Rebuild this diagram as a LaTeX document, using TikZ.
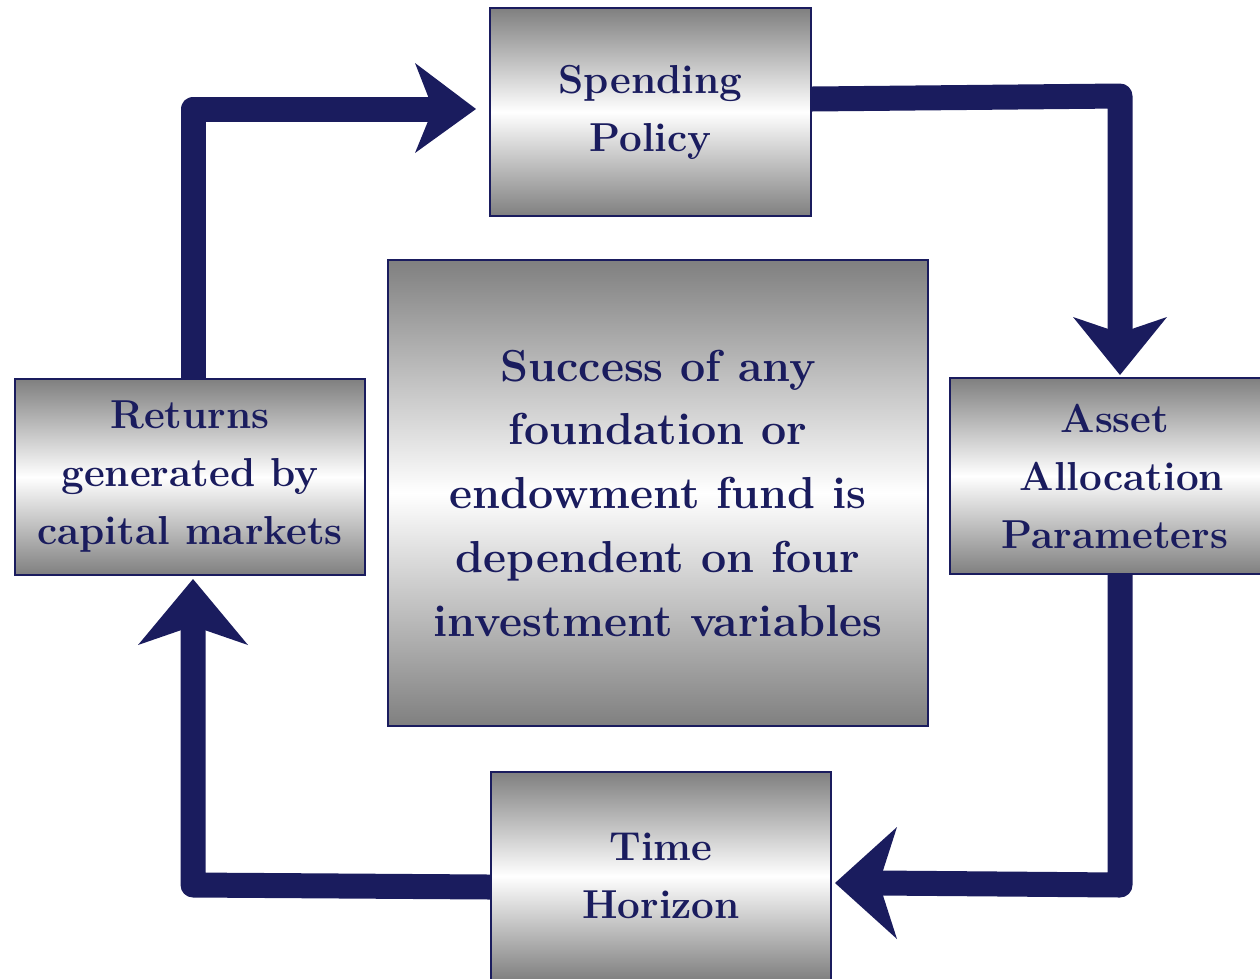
\documentclass[tikz,border=0pt]{standalone}
\usetikzlibrary{calc}
\definecolor{navy}{RGB}{26,28,94}
\tikzset{
  box/.style={draw=navy, line width=1.2pt, top color=gray, bottom color=gray, middle color=white,
    text=navy, align=center, inner sep=0pt, font=\bfseries\fontsize{23}{33}\selectfont},
  bigbox/.style={box, font=\bfseries\fontsize{25.5}{36.3}\selectfont},
  conn/.style={draw=navy, line width=0.5cm, line join=round},
  head/.style={fill=navy, draw=none}
}
\begin{document}
\begin{tikzpicture}[x=0.02cm, y=-0.02cm]
\useasboundingbox (0,0) rectangle (1260,978);
\clip (0,0) rectangle (1260,978);
% boxes
\node[box, minimum width=6.42cm, minimum height=4.16cm] (spend) at (650.5,112) {Spending\\Policy};
\node[bigbox, minimum width=10.8cm, minimum height=9.32cm] (center) at (658,493)
  {Success of any\\foundation or\\endowment fund is\\dependent on four\\investment variables};
\node[box, minimum width=6.6cm, minimum height=3.92cm] (asset) at (1115,476)
  {Asset\\\hspace*{0.35em}Allocation\\Parameters};
\node[box, minimum width=7.0cm, minimum height=3.92cm] (ret) at (190,477)
  {Returns\\generated by\\capital markets};
\node[box, minimum width=6.8cm, minimum height=4.16cm] (time) at (661,876) {Time\\Horizon};
% corner and notch coordinates
\coordinate (c1) at (193,109);
\coordinate (n1) at (433,109);
\coordinate (c2) at (1120,96);
\coordinate (n2) at (1120,333);
\coordinate (c3) at (1120,885);
\coordinate (n3) at (879,883);
\coordinate (c4) at (193,885);
\coordinate (n4) at (193,626);
% connectors
\draw[conn] (ret.north -| c1) -- (c1) -- (n1);
\fill[head] (476,109) -- (415,63) -- (n1) -- (415,153) -- cycle;
\draw[conn] ($(spend.east)+(0,-13)$) -- (c2) -- (n2);
\fill[head] (1120,375) -- (1073,317) -- (n2) -- (1167,317) -- cycle;
\draw[conn] (asset.south -| c3) -- (c3) -- (n3);
\fill[head] (835,883) -- (897,827) -- (n3) -- (897,939) -- cycle;
\draw[conn] (time.west |- 0,887) -- (c4) -- (n4);
\fill[head] (193,579) -- (138,645) -- (n4) -- (248,645) -- cycle;
\end{tikzpicture}
\end{document}
